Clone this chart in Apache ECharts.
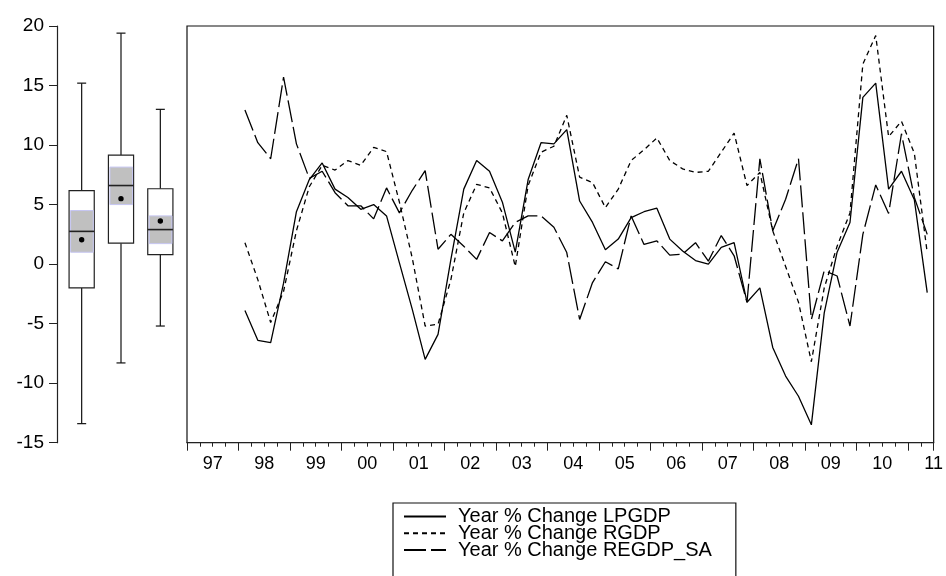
<!DOCTYPE html>
<html><head><meta charset="utf-8">
<script src="https://cdn.jsdelivr.net/npm/echarts@6/dist/echarts.min.js"></script>
<style>html,body{margin:0;padding:0;background:#fff}#c{width:946px;height:576px}</style>
</head><body><div id="c"></div>
<script>
// ---- axis / category info ----
const axisStartYear = 1997;          // first year shown on the time axis
const axisQuarters = 58;             // 1997Q1 .. 2011Q2
const yearLabels = ['97','98','99','00','01','02','03','04','05','06','07','08','09','10','11'];
const firstObsYear = 1998, firstObsQuarter = 1;   // series start 1998Q1

// ---- series values (quarterly, 1998Q1 .. 2011Q2) ----
const lpgdp = [-3.9,-6.4,-6.6,-1.6,4.4,7.1,8.5,6.3,5.6,4.6,
  5.0,4.05,0.1,-3.8,-8.0,-5.9,0.4,6.3,8.7,7.8,
  5.2,1.0,7.1,10.2,10.1,11.3,5.3,3.5,1.2,2.1,
  3.9,4.4,4.7,2.1,1.1,0.3,0.0,1.4,1.8,-3.2,
  -2.0,-7.0,-9.4,-11.1,-13.5,-4.1,1.0,3.5,14.0,15.2,
  6.3,7.8,5.4,-2.4];
const rgdp = [1.8,-1.3,-4.9,-2.3,2.8,6.5,8.3,7.9,8.7,8.3,
  9.8,9.45,5.2,0.5,-5.2,-5.05,-1.3,4.3,6.7,6.4,
  4.3,-0.2,6.6,9.4,9.9,12.5,7.3,6.85,4.75,6.3,
  8.7,9.6,10.6,8.7,8.0,7.7,7.8,9.4,11.0,6.6,
  7.7,2.8,-0.2,-3.2,-8.2,-2.0,1.5,4.3,16.8,19.2,
  10.7,12.0,9.3,0.95];
const regdp = [12.95,10.2,8.85,15.7,10.1,7.2,7.8,6.0,4.9,4.9,
  3.8,6.4,4.3,6.2,7.85,1.25,2.5,1.5,0.4,2.65,
  1.95,3.5,4.05,4.05,3.1,0.97,-4.65,-1.55,0.2,-0.4,
  4.05,1.65,1.95,0.75,0.85,1.8,0.25,2.4,0.7,-3.2,
  8.85,2.8,5.45,8.85,-4.65,-0.55,-1.0,-5.2,2.5,6.65,
  4.25,10.95,5.6,2.5];
const seriesNames = ['Year % Change LPGDP','Year % Change RGDP','Year % Change REGDP_SA'];

// ---- box plot statistics ----
const boxNames  = ['LPGDP','RGDP','REGDP_SA'];
const boxLow    = [-13.4,-8.3,-5.2];
const boxQ1     = [-2.0,1.76,0.8];
const boxMedian = [2.75,6.6,2.9];
const boxQ3     = [6.17,9.15,6.33];
const boxHigh   = [15.2,19.4,13.0];
const boxMean   = [2.05,5.5,3.62];
const boxCiLow  = [1.0,5.0,1.72];
const boxCiHigh = [4.5,8.15,4.05];

// ---- y ticks ----
const yMin = -15, yMax = 20, yStep = 5;

function xPos(k){
  return (firstObsYear - axisStartYear) * 4 + (firstObsQuarter - 1) + k + 0.5;
}
function toPairs(arr){ return arr.map((v,k)=>[xPos(k), v]); }

const FONT = 'Arial, "Liberation Sans", sans-serif';
const AX = '#222';

function renderBox(params, api){
  const c = api.value(0);
  const xC = api.coord([c, 0])[0];
  const bw = api.size([1, 0])[0] * 0.64;
  const capW = 9;
  const y = v => api.coord([c, v])[1];
  const yl = y(api.value(1)), yq1 = y(api.value(2)), ym = y(api.value(3)),
        yq3 = y(api.value(4)), yh = y(api.value(5)), ymean = y(api.value(6)),
        ycl = y(api.value(7)), ych = y(api.value(8));
  const ls = {stroke:'#111', lineWidth:1.2, fill:null};
  return {type:'group', children:[
    {type:'line', shape:{x1:xC,y1:yh,x2:xC,y2:yq3}, style:ls},
    {type:'line', shape:{x1:xC,y1:yq1,x2:xC,y2:yl}, style:ls},
    {type:'line', shape:{x1:xC-capW/2,y1:yh,x2:xC+capW/2,y2:yh}, style:ls},
    {type:'line', shape:{x1:xC-capW/2,y1:yl,x2:xC+capW/2,y2:yl}, style:ls},
    {type:'rect', shape:{x:xC-bw/2,y:yq3,width:bw,height:yq1-yq3}, style:{fill:'#fff',stroke:'#222',lineWidth:1.2}},
    {type:'rect', shape:{x:xC-bw/2+1.5,y:ych,width:bw-2.5,height:ycl-ych}, style:{fill:'#c0c0c0',stroke:'#c6c6f2',lineWidth:1}},
    {type:'line', shape:{x1:xC-bw/2,y1:ym,x2:xC+bw/2,y2:ym}, style:{stroke:'#222',lineWidth:1.6}},
    {type:'circle', shape:{cx:xC,cy:ymean,r:2.7}, style:{fill:'#000'}}
  ]};
}

const chart = echarts.init(document.getElementById('c'), null, {renderer:'canvas'});
chart.setOption({
  animation:false,
  backgroundColor:'#fff',
  grid:[
    {left:62, width:118, top:26, bottom:133.3},
    {left:187, right:4.3, top:26, bottom:133.3, show:true, borderColor:'#111', borderWidth:1.2, backgroundColor:'rgba(0,0,0,0)'}
  ],
  xAxis:[
    {gridIndex:0, type:'category', data:boxNames, show:false},
    {gridIndex:1, type:'value', min:0, max:axisQuarters, interval:4, position:'bottom',
      axisLine:{show:true, onZero:false, lineStyle:{color:AX, width:1.2}},
      axisTick:{show:true, length:8, lineStyle:{color:AX}},
      minorTick:{show:true, splitNumber:4, length:4, lineStyle:{color:AX}},
      axisLabel:{show:false}, splitLine:{show:false}, minorSplitLine:{show:false}},
    {gridIndex:1, type:'value', min:0, max:axisQuarters, interval:2, position:'bottom',
      axisLine:{show:false, onZero:false}, axisTick:{show:false}, splitLine:{show:false},
      axisLabel:{show:true, margin:12, fontSize:18, color:'#000', fontFamily:FONT,
        showMinLabel:true, showMaxLabel:true, hideOverlap:false,
        formatter:function(v){ return (v % 4 === 2) ? (yearLabels[(v-2)/4] || '') : ''; }}}
  ],
  yAxis:[
    {gridIndex:0, type:'value', min:yMin, max:yMax, interval:yStep, position:'left', offset:5,
      axisLine:{show:true, onZero:false, lineStyle:{color:AX, width:1.2}},
      axisTick:{show:true, length:8, lineStyle:{color:AX}},
      axisLabel:{margin:13, fontSize:19, color:'#000', fontFamily:FONT},
      splitLine:{show:false}},
    {gridIndex:1, type:'value', min:yMin, max:yMax, interval:yStep, show:false, splitLine:{show:false}}
  ],
  legend:{
    type:'plain', data:seriesNames, orient:'vertical', left:393, top:503, height:200, align:'left',
    borderColor:'#111', borderWidth:1.2, backgroundColor:'#fff',
    padding:[3.5,24,40,10], itemWidth:42, itemHeight:14, itemGap:-3.2,
    itemStyle:{color:'rgba(0,0,0,0)', borderColor:'rgba(0,0,0,0)', borderWidth:0},
    textStyle:{fontSize:20, color:'#000', fontFamily:FONT, lineHeight:16, padding:[0,0,0,7]},
    selectedMode:false
  },
  series:[
    {type:'custom', xAxisIndex:0, yAxisIndex:0, renderItem:renderBox,
      data:boxNames.map((n,i)=>[i, boxLow[i], boxQ1[i], boxMedian[i], boxQ3[i], boxHigh[i], boxMean[i], boxCiLow[i], boxCiHigh[i]]),
      silent:true},
    {name:seriesNames[0], type:'line', xAxisIndex:1, yAxisIndex:1, data:toPairs(lpgdp), symbol:'none',
      lineStyle:{color:'#000', width:1.3, type:'solid'}, itemStyle:{color:'#000'}},
    {name:seriesNames[1], type:'line', xAxisIndex:1, yAxisIndex:1, data:toPairs(rgdp), symbol:'none',
      lineStyle:{color:'#000', width:1.3, type:[5,4]}, itemStyle:{color:'#000'}},
    {name:seriesNames[2], type:'line', xAxisIndex:1, yAxisIndex:1, data:toPairs(regdp), symbol:'none',
      lineStyle:{color:'#000', width:1.3, type:[22,5]}, itemStyle:{color:'#000'}}
  ]
});
</script></body></html>
